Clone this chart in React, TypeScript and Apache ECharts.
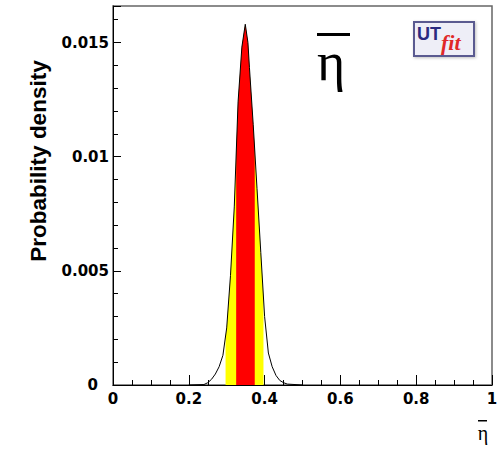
import React, { useEffect, useRef } from "react";
import * as echarts from "echarts";

// eta-bar values and probability density
const etaX = [0.2, 0.24, 0.25, 0.26, 0.27, 0.28, 0.29, 0.3, 0.31, 0.32, 0.33, 0.34, 0.349, 0.356, 0.36, 0.37, 0.38, 0.39, 0.4, 0.41, 0.42, 0.43, 0.44, 0.45, 0.46, 0.5];
const density = [0, 0.00002, 0.0001, 0.00025, 0.00048, 0.0008, 0.0013, 0.0025, 0.0048, 0.0078, 0.0124, 0.0148, 0.0158, 0.015, 0.0139, 0.0114, 0.0086, 0.0058, 0.003, 0.0014, 0.0008, 0.00042, 0.0002, 0.0001, 0.00004, 0];
// probability regions
const band95 = [0.297, 0.397];
const band68 = [0.325, 0.374];
// axes
const xMin = 0;
const xMax = 1;
const xStep = 0.2;
const yMin = 0;
const yMax = 0.0166;
const yStep = 0.005;

const curve = etaX.map((x, i) => [x, density[i]]);

function valueAt(x: number): number {
  for (let i = 0; i < etaX.length - 1; i++) {
    if (x >= etaX[i] && x <= etaX[i + 1]) {
      const t = (x - etaX[i]) / (etaX[i + 1] - etaX[i]);
      return density[i] + t * (density[i + 1] - density[i]);
    }
  }
  return 0;
}

function clip(lo: number, hi: number) {
  const pts: number[][] = [[lo, valueAt(lo)]];
  etaX.forEach((x, i) => {
    if (x > lo && x < hi) pts.push([x, density[i]]);
  });
  pts.push([hi, valueAt(hi)]);
  return pts;
}

const tickFont = "'DejaVu Sans', sans-serif";

export default function App() {
  const ref = useRef<HTMLDivElement>(null);
  useEffect(() => {
    if (!ref.current) return;
    const chart = echarts.init(ref.current, null, { renderer: "svg" });
    chart.setOption({
      animation: false,
      backgroundColor: "#ffffff",
      grid: {
        left: 113,
        right: 9,
        top: 6,
        bottom: 71,
        show: true,
        borderColor: "#666",
        borderWidth: 1.5,
      },
      xAxis: {
        type: "value",
        min: xMin,
        max: xMax,
        interval: xStep,
        axisLine: { show: true, onZero: false, lineStyle: { color: "#000", width: 1 } },
        axisTick: { show: true, inside: true, length: 10, lineStyle: { color: "#000" } },
        minorTick: { show: true, splitNumber: 4, length: 5, lineStyle: { color: "#000" } },
        splitLine: { show: false },
        axisLabel: {
          color: "#000",
          fontFamily: tickFont,
          fontWeight: "bold",
          fontSize: 15,
          margin: 6,
        },
      },
      yAxis: {
        type: "value",
        min: yMin,
        max: yMax,
        interval: yStep,
        axisLine: { show: true, lineStyle: { color: "#000", width: 1 } },
        axisTick: { show: true, inside: true, length: 8, lineStyle: { color: "#000" } },
        minorTick: { show: true, splitNumber: 5, length: 5, lineStyle: { color: "#000" } },
        splitLine: { show: false },
        axisLabel: {
          showMaxLabel: false,
          color: "#000",
          fontFamily: tickFont,
          fontWeight: "bold",
          fontSize: 15,
          margin: 4,
          formatter: (v: number) => (v === 0 ? "{z|0}" : String(Number(v.toFixed(4)))),
          rich: {
            z: { color: "#000", fontFamily: tickFont, fontWeight: "bold", fontSize: 15, padding: [0, 11, 0, 0] },
          },
        },
      },
      series: [
        {
          type: "line",
          data: clip(band95[0], band95[1]),
          symbol: "none",
          lineStyle: { width: 0 },
          areaStyle: { color: "#ffff00", opacity: 1 },
          z: 1,
        },
        {
          type: "line",
          data: clip(band68[0], band68[1]),
          symbol: "none",
          lineStyle: { width: 0 },
          areaStyle: { color: "#ff0000", opacity: 1 },
          z: 2,
        },
        {
          type: "line",
          data: curve,
          symbol: "none",
          lineStyle: { color: "#000", width: 1 },
          z: 3,
        },
      ],
      graphic: [
        {
          type: "text",
          x: 38,
          y: 161,
          rotation: Math.PI / 2,
          style: {
            text: "Probability density",
            fontFamily: "'Liberation Sans', Arial, sans-serif",
            fontWeight: "bold",
            fontSize: 22.5,
            fill: "#000",
            align: "center",
            verticalAlign: "middle",
          },
        },
        { type: "rect", shape: { x: 317, y: 33, width: 33, height: 3 }, style: { fill: "#000" } },
        {
          type: "text",
          x: 331,
          y: 62,
          style: {
            text: "η",
            fontFamily: "'Liberation Serif', serif",
            fontSize: 54,
            fill: "#000",
            align: "center",
            verticalAlign: "middle",
          },
        },
        { type: "rect", shape: { x: 478, y: 420, width: 9, height: 1.5 }, style: { fill: "#000" } },
        {
          type: "text",
          x: 483,
          y: 433,
          style: {
            text: "η",
            fontFamily: "'Liberation Serif', serif",
            fontSize: 20,
            fill: "#000",
            align: "center",
            verticalAlign: "middle",
          },
        },
        {
          type: "group",
          children: [
            {
              type: "rect",
              shape: { x: 414, y: 22, width: 60, height: 34 },
              style: { fill: "#eeeef7", stroke: "#5a5a90", lineWidth: 2, shadowColor: "rgba(0,0,0,0.25)", shadowBlur: 3, shadowOffsetX: 1, shadowOffsetY: 1 },
            },
            {
              type: "text",
              x: 417,
              y: 25,
              style: { text: "UT", fontFamily: "'Liberation Sans', Arial, sans-serif", fontWeight: "bold", fontSize: 18, fill: "#2a2a80" },
            },
            {
              type: "text",
              x: 441,
              y: 31,
              style: { text: "fit", fontFamily: "'Liberation Serif', serif", fontStyle: "italic", fontWeight: "bold", fontSize: 22, fill: "#e02828" },
            },
          ],
        },
      ],
    });
    return () => chart.dispose();
  }, []);
  return <div ref={ref} style={{ position: "fixed", left: 0, top: 0, width: 501, height: 456 }} />;
}
